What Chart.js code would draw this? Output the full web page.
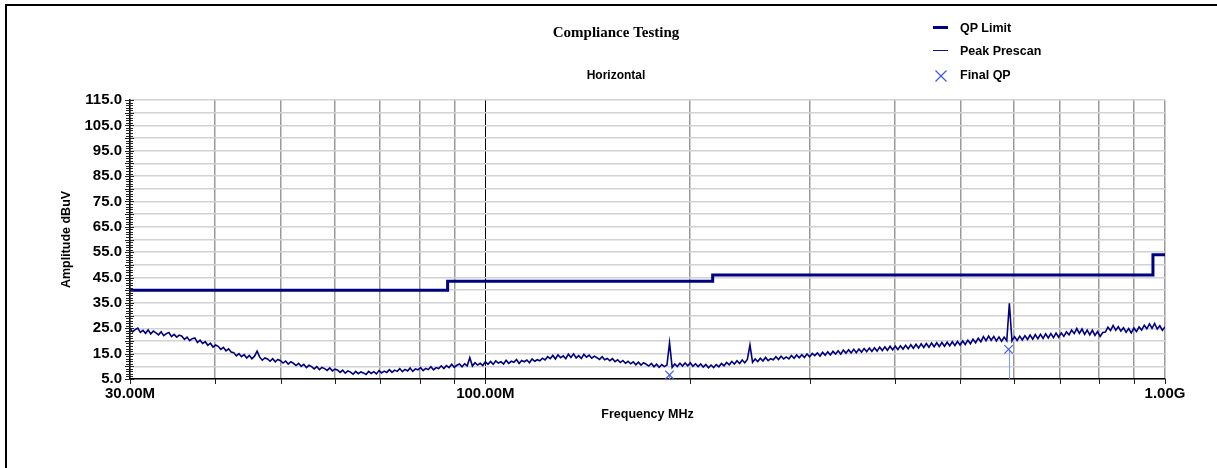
<!DOCTYPE html>
<html>
<head>
<meta charset="utf-8">
<script src="https://cdn.jsdelivr.net/npm/chart.js@4.4.1/dist/chart.umd.min.js"></script>
<style>
    body { margin: 0; background: #fff; }
    #wrap { position: relative; width: 1217px; height: 468px; overflow: hidden; }
    #chart { position: absolute; left: 0; top: 0; }
    #frame { position: absolute; left: 5px; top: 4px; right: -5px; bottom: -5px; border-top: 2px solid #000; border-left: 2px solid #000; pointer-events: none; }
    #legend { position: absolute; left: 930px; top: 16px; font: bold 12.5px "Liberation Sans", Arial, sans-serif; color: #000; }
    #legend .row { height: 23.5px; display: flex; align-items: center; }
    #legend .sym { width: 30px; height: 14px; position: relative; }
    #legend .thick { position: absolute; left: 3px; top: 5px; width: 15px; height: 3px; background: #000080; }
    #legend .thin { position: absolute; left: 3px; top: 6px; width: 15px; height: 1px; background: #1010a0; }
    #legend svg { position: absolute; left: 5px; top: 2px; }
</style>
</head>
<body>
<div id="wrap">
    <canvas id="chart" width="1217" height="468"></canvas>
    <div id="legend">
        <div class="row"><span class="sym"><span class="thick"></span></span>QP Limit</div>
        <div class="row"><span class="sym"><span class="thin"></span></span>Peak Prescan</div>
        <div class="row"><span class="sym"><svg width="12" height="12"><path d="M0.5 0.5L11.5 11.5M11.5 0.5L0.5 11.5" stroke="#3a5af0" stroke-width="1.2" fill="none"/></svg></span>Final QP</div>
    </div>
    <div id="frame"></div>
</div>
<script>
    // sweep 30 MHz - 1 GHz, points evenly spaced on the log axis
    const sweepStartMHz = 30;
    const sweepStopMHz = 1000;

    // Peak prescan trace, dBuV
    const prescanDb = [
        24.9, 23.6, 24.5, 25.1, 23.4, 24.2, 23.0, 24.4, 22.8, 23.9, 23.2, 22.4, 23.6, 22.1, 22.9, 23.3, 21.7, 22.6, 21.5, 22.3,
        21.9, 20.6, 21.5, 20.1, 20.9, 21.2, 19.4, 20.3, 19.0, 19.7, 18.3, 19.1, 17.6, 18.4, 17.9, 16.7, 17.5, 16.1, 16.9, 15.6,
        15.4, 14.1, 15.0, 13.8, 14.6, 13.3, 14.3, 13.0, 14.0, 16.0, 13.6, 12.4, 13.3, 12.9, 12.0, 13.0, 11.8, 12.7, 12.2, 11.3,
        12.1, 10.9, 11.8, 11.2, 10.3, 11.2, 10.0, 10.8, 9.5, 10.4, 9.9, 9.0, 9.9, 8.7, 9.6, 9.1, 8.4, 9.4, 8.2, 8.9,
        8.6, 7.6, 8.5, 7.3, 8.2, 7.7, 6.9, 8.0, 7.1, 7.8, 7.4, 6.8, 8.0, 7.2, 7.9, 7.0, 8.3, 7.4, 8.1, 7.6,
        8.7, 7.6, 8.5, 8.0, 9.1, 7.9, 8.8, 8.2, 9.3, 8.0, 9.0, 8.6, 9.5, 8.3, 9.2, 8.7, 9.8, 8.6, 9.5, 9.1,
        10.2, 9.1, 10.3, 9.5, 10.8, 9.6, 10.4, 10.9, 9.8, 11.0, 10.2, 13.4, 10.1, 11.4, 10.5, 11.2, 10.3, 11.8, 10.8, 11.9,
        10.8, 12.1, 11.3, 11.8, 10.9, 12.4, 11.2, 12.0, 11.6, 12.7, 11.1, 12.3, 11.8, 12.5, 11.4, 12.9, 12.0, 12.6, 12.2, 13.2,
        12.5, 13.8, 13.0, 14.3, 12.9, 14.5, 13.4, 14.1, 13.0, 14.8, 13.5, 14.9, 13.3, 14.2, 13.1, 14.7, 13.6, 14.4, 13.2, 14.0,
        13.4, 12.7, 13.8, 12.6, 13.1, 12.2, 13.0, 11.8, 12.6, 11.5, 12.3, 11.2, 12.0, 11.0, 11.8, 10.6, 11.6, 10.5, 11.4, 10.8,
        10.1, 11.1, 9.8, 10.8, 9.6, 10.7, 9.9, 10.5, 19.3, 9.6, 10.9, 9.9, 11.2, 10.1, 11.3, 10.2, 11.4, 10.0, 11.0, 9.9,
        10.9, 9.7, 10.7, 9.4, 10.5, 9.5, 10.7, 9.8, 11.1, 10.2, 11.5, 10.6, 11.9, 10.9, 12.2, 11.1, 12.5, 11.4, 12.7, 18.4,
        11.6, 12.9, 11.9, 13.2, 12.1, 13.5, 12.2, 13.0, 12.6, 13.8, 12.7, 14.0, 12.9, 13.7, 12.9, 14.3, 13.2, 14.5, 13.4, 14.6,
        13.5, 14.9, 13.8, 15.1, 14.2, 15.3, 14.0, 15.5, 14.4, 15.7, 14.5, 15.9, 14.8, 16.1, 14.8, 16.4, 15.2, 16.5, 15.3, 16.7,
        15.4, 16.8, 15.6, 17.0, 15.8, 17.2, 15.9, 17.3, 16.0, 17.6, 16.2, 17.7, 16.3, 17.9, 16.5, 18.0, 16.6, 18.1, 16.8, 18.3,
        16.9, 18.5, 17.1, 18.7, 17.2, 18.9, 17.4, 19.0, 17.5, 19.2, 17.7, 19.3, 17.8, 19.4, 17.9, 19.5, 18.1, 19.7, 18.2, 19.8,
        18.4, 20.0, 18.6, 20.3, 18.9, 20.7, 19.3, 21.1, 19.7, 21.7, 20.1, 21.9, 20.3, 21.8, 20.0, 21.6, 19.9, 21.5, 20.1, 34.8,
        20.0, 21.7, 20.2, 21.9, 20.4, 22.1, 20.6, 22.3, 20.7, 22.5, 20.9, 22.6, 21.0, 22.8, 21.2, 22.9, 21.3, 23.1, 21.5, 23.2,
        21.8, 23.6, 22.4, 24.3, 22.9, 24.9, 23.0, 24.7, 22.6, 24.3, 22.4, 24.2, 22.2, 23.7, 21.8, 23.3, 23.5, 25.4, 24.1, 26.1,
        24.2, 25.6, 23.9, 25.2, 23.4, 24.9, 23.2, 25.1, 23.7, 25.5, 24.3, 26.2, 24.8, 26.7, 25.0, 26.9, 24.7, 26.0, 24.2, 25.5
    ];

    // QP limit steps (MHz, dBuV)
    const limitFreqs = [30, 88, 216, 960, 1000];
    const limitDb = [40, 43.5, 46, 54, 54];

    // final quasi-peak measurements
    const qpFreqs = [186.6, 588.6];
    const qpDb = [6.6, 16.7];

    const xTickValues = [30, 40, 50, 60, 70, 80, 90, 100, 200, 300, 400, 500, 600, 700, 800, 900, 1000];
    const xTickLabels = { 30: '30.00M', 100: '100.00M', 1000: '1.00G' };

    const yMin = 5;
    const yMax = 115;

    const sans = '"Liberation Sans", Arial, sans-serif';
    const navy = '#000080';
    const qpBlue = '#3a5af0';

    const prescanPoints = prescanDb.map(function (v, i) {
        const f = sweepStartMHz * Math.pow(sweepStopMHz / sweepStartMHz, i / (prescanDb.length - 1));
        return { x: f, y: v };
    });
    const limitPoints = limitFreqs.map((f, i) => ({ x: f, y: limitDb[i] }));
    const qpPoints = qpFreqs.map((f, i) => ({ x: f, y: qpDb[i] }));

    // ladder ticks on the amplitude axis, small ticks under the frequency axis,
    // and the drop lines under the QP markers
    const axisDecor = {
        id: 'axisDecor',
        beforeDatasetsDraw(chart) {
            const { ctx, scales: { x, y } } = chart;
            ctx.save();
            ctx.strokeStyle = '#7f9aff';
            ctx.lineWidth = 1;
            qpPoints.forEach(p => {
                const px = Math.round(x.getPixelForValue(p.x)) + 0.5;
                ctx.beginPath();
                ctx.moveTo(px, y.getPixelForValue(p.y));
                ctx.lineTo(px, y.getPixelForValue(yMin));
                ctx.stroke();
            });
            ctx.restore();
        },
        afterDraw(chart) {
            const { ctx, chartArea, scales: { x, y } } = chart;
            ctx.save();
            ctx.strokeStyle = '#222';
            ctx.lineWidth = 1;
            for (let v = yMin; v <= yMax; v++) {
                const py = Math.round(y.getPixelForValue(v)) + 0.5;
                const major = v % 5 === 0;
                ctx.beginPath();
                ctx.moveTo(chartArea.left - (major ? 5 : 4), py);
                ctx.lineTo(chartArea.left + (major ? 4 : 3), py);
                ctx.stroke();
            }
            xTickValues.forEach(v => {
                const px = Math.round(x.getPixelForValue(v)) + 0.5;
                ctx.beginPath();
                ctx.moveTo(px, chartArea.bottom);
                ctx.lineTo(px, chartArea.bottom + 5);
                ctx.stroke();
            });
            ctx.restore();
        }
    };

    new Chart(document.getElementById('chart'), {
        type: 'line',
        data: {
            datasets: [{
                label: 'Final QP',
                data: qpPoints,
                showLine: false,
                pointStyle: 'crossRot',
                pointRadius: 6,
                borderColor: qpBlue,
                backgroundColor: qpBlue,
                pointBorderWidth: 1.2
            }, {
                label: 'Peak Prescan',
                data: prescanPoints,
                borderColor: navy,
                borderWidth: 1.6,
                pointRadius: 0,
                tension: 0
            }, {
                label: 'QP Limit',
                data: limitPoints,
                stepped: 'before',
                borderColor: navy,
                borderWidth: 3,
                pointRadius: 0
            }]
        },
        options: {
            responsive: false,
            animation: false,
            events: [],
            layout: { padding: { left: 67, right: 52, top: 0, bottom: 0 } },
            plugins: {
                legend: { display: false },
                tooltip: { enabled: false },
                title: {
                    display: true,
                    text: 'Compliance Testing',
                    color: '#000',
                    font: { family: '"Liberation Serif", "Times New Roman", serif', size: 15, weight: 'bold' },
                    padding: { top: 24, bottom: 0 }
                },
                subtitle: {
                    display: true,
                    text: 'Horizontal',
                    color: '#000',
                    font: { family: sans, size: 12, weight: 'bold' },
                    padding: { top: 26.3, bottom: 17.3 }
                }
            },
            scales: {
                x: {
                    type: 'logarithmic',
                    min: sweepStartMHz,
                    max: sweepStopMHz,
                    afterBuildTicks: s => { s.ticks = xTickValues.map(v => ({ value: v })); },
                    afterFit: s => { s.height = 89; },
                    ticks: {
                        autoSkip: false,
                        maxRotation: 0,
                        padding: 6,
                        color: '#000',
                        font: { family: sans, size: 15, weight: 'bold' },
                        callback: v => xTickLabels[v] || ''
                    },
                    grid: {
                        drawTicks: false,
                        color: c => (c.tick && c.tick.value === 100 ? '#000' : '#9a9a9a'),
                        lineWidth: c => (c.tick && c.tick.value === 100 ? 1 : 1.5)
                    },
                    border: { display: true, color: '#000', width: 1.5 },
                    title: {
                        display: true,
                        text: 'Frequency MHz',
                        color: '#000',
                        font: { family: sans, size: 12.5, weight: 'bold' },
                        padding: { top: 0, bottom: 45.5 }
                    }
                },
                y: {
                    min: yMin,
                    max: yMax,
                    afterFit: s => { s.width = 63; },
                    ticks: {
                        stepSize: 5,
                        autoSkip: false,
                        padding: 8,
                        color: '#000',
                        font: { family: sans, size: 15, weight: 'bold' },
                        callback: v => ((v - yMin) % 10 === 0 ? v.toFixed(1) : '')
                    },
                    grid: {
                        drawTicks: false,
                        color: '#d2d2d2',
                        lineWidth: 1.5
                    },
                    border: { display: true, color: '#000', width: 1.5 },
                    title: {
                        display: true,
                        text: 'Amplitude dBuV',
                        color: '#000',
                        font: { family: sans, size: 12.5, weight: 'bold' },
                        padding: { top: -7.5, bottom: 0 }
                    }
                }
            }
        },
        plugins: [axisDecor]
    });
</script>
</body>
</html>
